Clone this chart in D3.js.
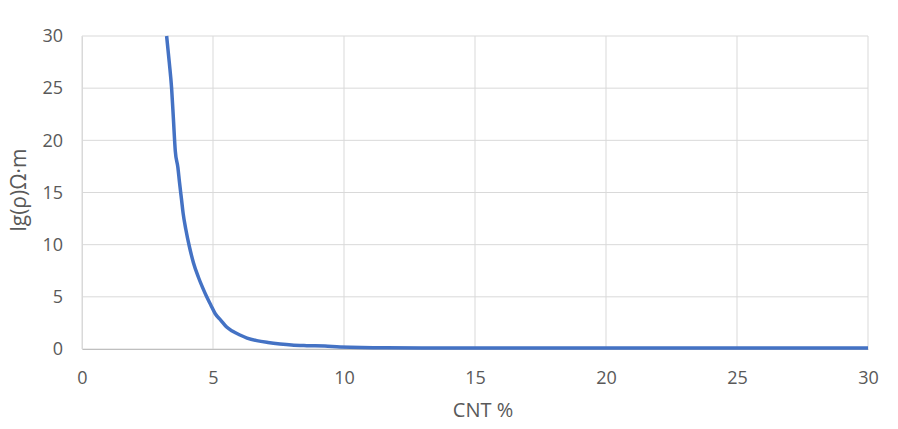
<!DOCTYPE html>
<html>
<head>
<meta charset="utf-8">
<script src="https://cdn.jsdelivr.net/npm/d3@7"></script>
<style>
  body { margin: 0; background: #fff; }
  .tick text { font-family: "Open Sans", sans-serif; font-size: 18px; fill: #595959; }
  .axisText { font-family: "Open Sans", sans-serif; font-size: 20px; fill: #595959; }
</style>
</head>
<body>
<div id="chart"></div>
<script>
// data
var cntPct = [3.23, 3.33, 3.42, 3.49, 3.56, 3.66, 3.72, 3.8, 3.86, 3.96, 4.1, 4.25, 4.44, 4.6, 4.76, 4.92, 5.08, 5.3, 5.52, 5.75, 6.03, 6.3, 6.67, 7.1, 7.56, 8.0, 8.58, 9.27, 9.85, 11.6, 15, 20, 25, 30];
var lgRho = [30, 27.5, 25, 22, 19, 17.4, 16.0, 14.3, 13.0, 11.5, 9.8, 8.3, 6.9, 5.9, 5.0, 4.2, 3.4, 2.75, 2.1, 1.7, 1.34, 1.05, 0.8, 0.62, 0.48, 0.38, 0.32, 0.28, 0.2, 0.12, 0.1, 0.1, 0.1, 0.1];
var xTicks = [0, 5, 10, 15, 20, 25, 30];
var yTicks = [0, 5, 10, 15, 20, 25, 30];

var svgWidth = 898;
var svgHeight = 429;
var margin = { top: 36, right: 30, bottom: 80, left: 82 };
var width = 868 - margin.left;
var height = 349 - margin.top;

var svg = d3.select("#chart")
    .append("svg")
    .attr("width", svgWidth)
    .attr("height", svgHeight);

var chartGroup = svg.append("g")
    .attr("transform", `translate(${margin.left}, ${margin.top})`);

var xScale = d3.scaleLinear().domain([0, 30]).range([0, width]);
var yScale = d3.scaleLinear().domain([0, 30]).range([height, 0]);

// gridlines
chartGroup.selectAll(".vgrid")
    .data(xTicks)
    .enter()
    .append("line")
    .attr("x1", d => xScale(d)).attr("x2", d => xScale(d))
    .attr("y1", 0).attr("y2", height)
    .attr("stroke", "#d9d9d9").attr("stroke-width", 1);

chartGroup.selectAll(".hgrid")
    .data(yTicks)
    .enter()
    .append("line")
    .attr("x1", 0).attr("x2", width)
    .attr("y1", d => yScale(d)).attr("y2", d => yScale(d))
    .attr("stroke", "#d9d9d9").attr("stroke-width", 1);

// axes
var bottomAxis = d3.axisBottom(xScale).tickValues(xTicks).tickSize(0).tickPadding(22);
var leftAxis = d3.axisLeft(yScale).tickValues(yTicks).tickSize(0).tickPadding(19);

chartGroup.append("g")
    .attr("transform", `translate(0, ${height})`)
    .call(bottomAxis)
    .call(g => g.select(".domain").attr("stroke", "#bfbfbf"));

chartGroup.append("g")
    .call(leftAxis)
    .call(g => g.select(".domain").attr("stroke", "#d9d9d9"));

// curve
var points = cntPct.map((x, i) => [x, lgRho[i]]);
var line = d3.line()
    .x(d => xScale(d[0]))
    .y(d => yScale(d[1]))
    .curve(d3.curveMonotoneX);

chartGroup.append("path")
    .datum(points)
    .attr("d", line)
    .attr("fill", "none")
    .attr("stroke", "#4472c4")
    .attr("stroke-width", 3.5)
    .attr("stroke-linejoin", "round");

// axis titles
chartGroup.append("text")
    .attr("transform", "rotate(-90)")
    .attr("x", 0 - 154)
    .attr("y", -56)
    .attr("text-anchor", "middle")
    .attr("class", "axisText")
    .style("font-size", "21px")
    .text("lg(ρ)Ω·m");

chartGroup.append("text")
    .attr("x", width / 2 + 8)
    .attr("y", height + 68)
    .attr("text-anchor", "middle")
    .attr("class", "axisText")
    .text("CNT %");
</script>
</body>
</html>
